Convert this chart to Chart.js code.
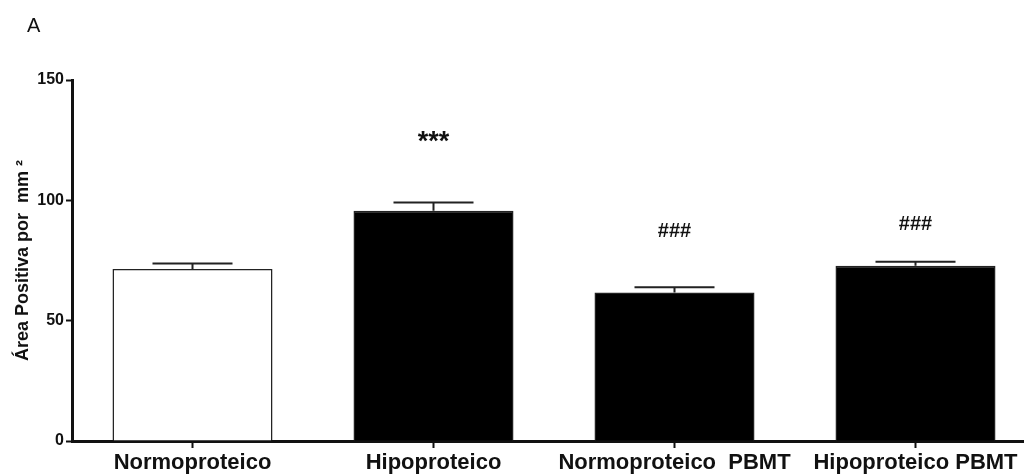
<!DOCTYPE html>
<html><head><meta charset="utf-8">
<script src="https://cdn.jsdelivr.net/npm/chart.js@4/dist/chart.umd.min.js"></script>
<style>
html,body{margin:0;padding:0;background:#fff;overflow:hidden;width:1024px;height:475px;}
#wrap{position:absolute;left:0;top:0;width:1036px;height:475px;}
#panel{position:absolute;left:27px;top:14px;font:20px "Liberation Sans",Arial,sans-serif;color:#111;}
</style></head><body>
<div id="wrap"><canvas id="c" width="1036" height="475"></canvas></div>
<div id="panel">A</div>
<script>
const categories = ["Normoproteico", "Hipoproteico", "Normoproteico  PBMT", "Hipoproteico PBMT"];
const means = [71.5, 95.7, 61.7, 72.8];
const sem = [2.3, 3.4, 2.2, 1.7];
const marks = ["", "***", "###", "###"];
const markLevels = [null, 126, 87, 90];
const yTicks = [0, 50, 100, 150];
const fills = ["#ffffff", "#000000", "#000000", "#000000"];

const errPlugin = {
  id: 'err',
  afterDatasetsDraw(chart) {
    const ctx = chart.ctx, y = chart.scales.y;
    const meta = chart.getDatasetMeta(0);
    ctx.save();
    meta.data.forEach((bar, i) => {
      const x = bar.x;
      const top = y.getPixelForValue(means[i] + sem[i]);
      const base = y.getPixelForValue(means[i]);
      const half = bar.width * 0.25;
      ctx.strokeStyle = '#222';
      ctx.lineWidth = 2;
      ctx.beginPath();
      ctx.moveTo(x, base); ctx.lineTo(x, top);
      ctx.moveTo(x - half, top); ctx.lineTo(x + half, top);
      ctx.stroke();
      if (marks[i]) {
        const ty = y.getPixelForValue(markLevels[i]);
        ctx.fillStyle = '#111';
        ctx.textAlign = 'center'; ctx.textBaseline = 'middle';
        ctx.font = marks[i] === '***' ? 'bold 27px "Liberation Sans", Arial' : 'bold 20px "Liberation Sans", Arial';
        ctx.fillText(marks[i], x, marks[i] === '***' ? ty + 5 : ty);
      }
    });
    ctx.restore();
  }
};

new Chart(document.getElementById('c'), {
  type: 'bar',
  data: {
    labels: categories,
    datasets: [{
      data: means,
      backgroundColor: fills,
      borderColor: '#222',
      borderWidth: 1.5,
      borderSkipped: 'bottom',
      barPercentage: 0.664,
      categoryPercentage: 1.0
    }]
  },
  options: {
    responsive: false,
    animation: false,
    layout: { padding: { top: 80, right: 0, left: 0, bottom: 0 } },
    plugins: { legend: { display: false }, tooltip: { enabled: false } },
    scales: {
      x: {
        offset: true,
        grid: { display: true, drawOnChartArea: false, tickLength: 7, tickWidth: 2, tickColor: '#111', offset: false },
        border: { display: true, color: '#111', width: 3 },
        ticks: { color: '#111', font: { family: '"Liberation Sans", Arial', size: 22, weight: 'bold' }, padding: 2, maxRotation: 0, autoSkip: false },
        afterFit(s) { s.height = 34; }
      },
      y: {
        min: 0, max: 150,
        afterBuildTicks(s) { s.ticks = yTicks.map(v => ({ value: v })); },
        grid: { display: true, drawOnChartArea: false, tickLength: 6, tickWidth: 2, tickColor: '#111' },
        border: { display: true, color: '#111', width: 3 },
        ticks: { color: '#111', font: { family: '"Liberation Sans", Arial', size: 16, weight: 'bold' }, padding: 2 },
        title: { display: true, text: 'Área Positiva por  mm ²', color: '#111', font: { family: '"Liberation Sans", Arial', size: 18, weight: 'bold' }, padding: { top: 12, bottom: 0 } },
        afterFit(s) { s.width = 72; }
      }
    }
  },
  plugins: [errPlugin]
});
</script>
</body></html>
